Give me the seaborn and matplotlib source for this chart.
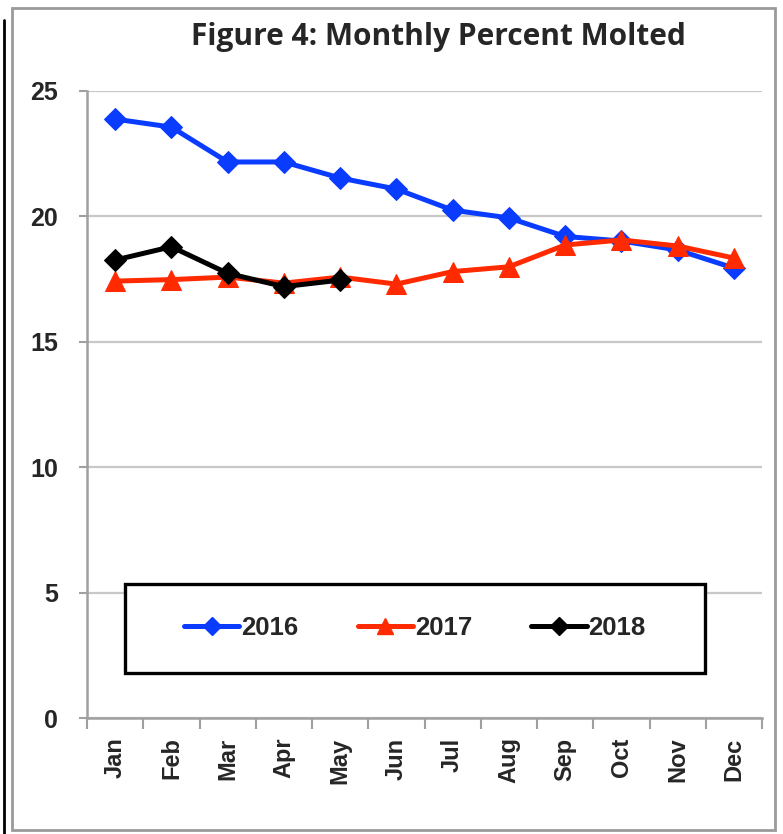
import pandas as pd
import seaborn as sns
import matplotlib.pyplot as plt
from matplotlib.patches import Rectangle
from matplotlib.lines import Line2D
from matplotlib.ticker import FixedLocator

months = ['Jan', 'Feb', 'Mar', 'Apr', 'May', 'Jun', 'Jul', 'Aug', 'Sep', 'Oct', 'Nov', 'Dec']
pct_2016 = [23.88, 23.56, 22.17, 22.17, 21.53, 21.09, 20.25, 19.94, 19.2, 19.02, 18.66, 17.94]
pct_2017 = [17.42, 17.48, 17.58, 17.34, 17.58, 17.3, 17.8, 17.99, 18.86, 19.06, 18.82, 18.34]
pct_2018 = [18.26, 18.79, 17.73, 17.2, 17.46]

years = ['2016', '2017', '2018']
colors = {'2016': '#0a3cff', '2017': '#ff2a00', '2018': '#000000'}
markers = {'2016': 'D', '2017': '^', '2018': 'D'}
marker_sizes = {'2016': 11.5, '2017': 14, '2018': 11.5}


def build_frame():
    rows = []
    for year, vals in zip(years, [pct_2016, pct_2017, pct_2018]):
        for i, v in enumerate(vals):
            rows.append({'month': i, 'year': year, 'pct': v})
    return pd.DataFrame(rows)


def main():
    sns.set_style('white')
    plt.rcParams['font.family'] = ['Liberation Sans', 'DejaVu Sans']

    dados = build_frame()

    fig = plt.figure(figsize=(7.83, 8.34), dpi=100)
    ax = fig.add_axes([87 / 783, 1 - 718 / 834, 675 / 783, 627 / 834])

    for year in years:
        sub = dados[dados['year'] == year]
        sns.lineplot(data=sub, x='month', y='pct', ax=ax, color=colors[year],
                     marker=markers[year], markersize=marker_sizes[year],
                     markeredgecolor=colors[year], linewidth=3.6, label=year,
                     legend=False, zorder=3)

    ax.set_xlim(-0.5, 11.5)
    ax.set_ylim(0, 25)
    ax.set_yticks([0, 5, 10, 15, 20, 25])
    ax.yaxis.grid(True, color='#c8c8c8', linewidth=1.6)
    ax.set_axisbelow(True)
    ax.set_xlabel('')
    ax.set_ylabel('')

    ax.set_xticks(range(12))
    ax.set_xticklabels(months, rotation=90, fontsize=17, fontweight='bold')
    ax.xaxis.set_minor_locator(FixedLocator([i - 0.5 for i in range(13)]))
    ax.tick_params(axis='x', which='major', length=0, pad=14)
    ax.tick_params(axis='x', which='minor', length=8, width=1.5, color='#a0a0a0', bottom=True)
    ax.tick_params(axis='y', length=6, width=1.5, color='#a0a0a0', left=True, pad=15)
    for lab in ax.get_yticklabels():
        lab.set_fontweight('bold')
        lab.set_fontsize(18)

    for side in ['top', 'right']:
        ax.spines[side].set_visible(False)
    for side in ['left', 'bottom']:
        ax.spines[side].set_color('#a0a0a0')
        ax.spines[side].set_linewidth(1.8)

    # legend box
    ax.add_patch(Rectangle((0.0563, 0.0718), 0.8593, 0.142, transform=ax.transAxes,
                           facecolor='white', edgecolor='black', linewidth=2.4, zorder=4))
    handles = [Line2D([], [], color=colors[y], marker=markers[y],
                      markersize=9 if markers[y] == 'D' else 11, linewidth=3.6) for y in years]
    ax.legend(handles, years, loc='center', ncol=3,
              bbox_to_anchor=(0.0563 + 0.8593 / 2, 0.0718 + 0.142 / 2),
              prop={'weight': 'bold', 'size': 18.5}, frameon=False,
              handlelength=2.15, handletextpad=0.08, columnspacing=2.3,
              borderaxespad=0).set_zorder(5)

    fig.text(438 / 783, 1 - 37 / 834, 'Figure 4: Monthly Percent Molted',
             ha='center', va='center', fontsize=21.5, fontweight='bold',
             family=['Open Sans', 'DejaVu Sans'])

    # chart border
    fig.add_artist(Rectangle((12 / 783, 1 - 830 / 834), 763 / 783, 822 / 834,
                             transform=fig.transFigure, fill=False,
                             edgecolor='#9a9a9a', linewidth=2))
    fig.add_artist(Line2D([4 / 783, 4 / 783], [0, 1 - 20 / 834], transform=fig.transFigure,
                          color='black', linewidth=2))

    fig.savefig('out.png', dpi=100)


if __name__ == "__main__":
    main()
